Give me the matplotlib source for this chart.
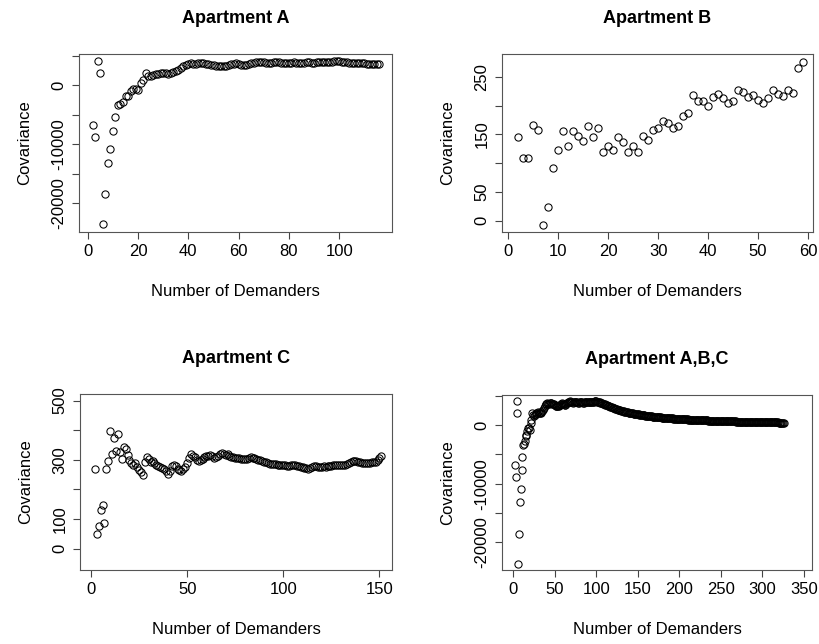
import numpy as np
import matplotlib
matplotlib.use("Agg")
import matplotlib.pyplot as plt

plt.rcParams["font.family"] = ["Liberation Sans", "DejaVu Sans"]
plt.rcParams["font.size"] = 12

# covariance per number of demanders (first demander count is 2)
first_n = 2

cov_a = [
    -6800, -8800, 4100, 2100, -23600, -18500, -13200, -10900, -7700, -5400,
    -3400, -3200, -2800, -1900, -1750, -1000, -600, -600, -850, 400,
    850, 2000, 1650, 1550, 1750, 1850, 1950, 2100, 2150, 2000,
    1950, 2100, 2250, 2400, 2550, 2850, 3200, 3500, 3650, 3700,
    3600, 3650, 3700, 3750, 3700, 3650, 3600, 3500, 3400, 3300,
    3250, 3200, 3250, 3300, 3400, 3550, 3650, 3700, 3650, 3500,
    3400, 3450, 3550, 3700, 3850, 3950, 4000, 3950, 3900, 3850,
    3800, 3850, 3900, 3950, 3900, 3850, 3800, 3800, 3850, 3850,
    3900, 3850, 3800, 3800, 3850, 3900, 3900, 3850, 3850, 3900,
    3900, 3950, 3950, 3900, 3900, 3950, 4050, 4100, 4050, 3950,
    3900, 3900, 3850, 3850, 3800, 3800, 3750, 3700, 3700, 3650,
    3650, 3600, 3600, 3550, 3550,
]

cov_b = [
    146, 109, 109, 167, 157, -8, 24, 91, 122, 156,
    130, 156, 148, 139, 164, 145, 161, 119, 130, 122,
    146, 137, 120, 130, 119, 148, 141, 157, 161, 174,
    169, 161, 165, 182, 187, 218, 209, 209, 199, 215,
    221, 214, 205, 209, 228, 223, 215, 218, 210, 205,
    214, 227, 221, 216, 227, 222, 265, 276,
]

cov_c = [
    268, 51, 78, 130, 149, 87, 268, 296, 398, 321,
    372, 330, 388, 327, 302, 342, 338, 315, 300, 290,
    283, 288, 275, 265, 258, 250, 291, 310, 304, 292,
    295, 288, 284, 279, 276, 273, 268, 262, 251, 262,
    280, 284, 279, 270, 265, 262, 268, 275, 290, 305,
    319, 314, 308, 300, 296, 300, 304, 310, 313, 312,
    316, 314, 305, 308, 313, 318, 322, 320, 316, 318,
    314, 310, 308, 306, 306, 305, 304, 303, 302, 304,
    306, 308, 307, 305, 303, 300, 298, 296, 293, 291,
    289, 287, 285, 286, 285, 284, 283, 282, 283, 282,
    280, 279, 281, 282, 281, 280, 278, 276, 274, 272,
    271, 270, 272, 276, 279, 278, 277, 276, 277, 278,
    277, 278, 279, 280, 281, 282, 283, 282, 282, 283,
    284, 286, 289, 292, 295, 297, 296, 294, 292, 290,
    289, 288, 289, 290, 291, 292, 293, 298, 305, 313,
]

# all apartments pooled: same as A up to 104 demanders, then this tail
cov_abc_tail = [
    3800, 3750, 3700, 3650, 3600, 3520,
    3450, 3400, 3350, 3300, 3250, 3190, 3130, 3070, 3010, 2950,
    2900, 2840, 2790, 2730, 2680, 2630, 2590, 2540, 2500, 2450,
    2410, 2370, 2330, 2290, 2250, 2220, 2180, 2150, 2110, 2080,
    2050, 2020, 1990, 1960, 1930, 1900, 1880, 1850, 1830, 1800,
    1780, 1750, 1730, 1710, 1690, 1660, 1640, 1620, 1600, 1570,
    1550, 1530, 1510, 1500, 1480, 1460, 1440, 1420, 1410, 1390,
    1370, 1360, 1340, 1330, 1310, 1300, 1280, 1270, 1250, 1240,
    1230, 1210, 1200, 1190, 1180, 1170, 1150, 1140, 1130, 1120,
    1110, 1100, 1090, 1080, 1070, 1060, 1050, 1040, 1030, 1020,
    1010, 1000, 990, 980, 970, 960, 960, 950, 940, 930,
    920, 910, 900, 900, 890, 880, 870, 870, 860, 850,
    840, 840, 830, 820, 810, 810, 800, 790, 790, 780,
    770, 770, 760, 760, 750, 740, 740, 730, 730, 720,
    720, 710, 700, 700, 690, 690, 680, 680, 670, 670,
    660, 660, 650, 650, 640, 640, 630, 630, 620, 620,
    620, 610, 610, 600, 600, 590, 590, 590, 580, 580,
    570, 570, 570, 560, 560, 550, 550, 550, 540, 540,
    540, 530, 530, 520, 520, 520, 510, 510, 510, 500,
    500, 500, 490, 490, 490, 480, 480, 480, 470, 470,
    470, 460, 460, 460, 450, 450, 450, 450, 440, 440,
    440, 430, 430, 430, 430, 420, 420, 420, 420, 410,
    410, 410, 400, 400, 400, 395,
]
cov_abc = cov_a[:103] + cov_abc_tail

titles = ["Apartment A", "Apartment B", "Apartment C", "Apartment A,B,C"]

panels = [
    dict(y=cov_a, box=(79, 54, 392, 232), xlim=(-3.5, 121), ylim=(-24900, 5300),
         xt=[0, 20, 40, 60, 80, 100], yt=[-20000, -15000, -10000, -5000, 0, 5000],
         ylab=["-20000", "", "-10000", "", "0", ""]),
    dict(y=cov_b, box=(502, 54, 813, 232), xlim=(-1.3, 61), ylim=(-20, 290),
         xt=[0, 10, 20, 30, 40, 50, 60], yt=[0, 50, 100, 150, 200, 250],
         ylab=["0", "50", "", "150", "", "250"]),
    dict(y=cov_c, box=(80, 394, 392, 570), xlim=(-5.7, 156.5), ylim=(-72, 522),
         xt=[0, 50, 100, 150], yt=[0, 100, 200, 300, 400, 500],
         ylab=["0", "100", "", "300", "", "500"]),
    dict(y=cov_abc, box=(502, 395, 812, 570), xlim=(-13.5, 360), ylim=(-24700, 5100),
         xt=[0, 50, 100, 150, 200, 250, 300, 350], yt=[-20000, -15000, -10000, -5000, 0, 5000],
         ylab=["-20000", "", "-10000", "", "0", ""]),
]

W, H = 819, 644
fig = plt.figure(figsize=(W / 100, H / 100), dpi=100)

for title, p in zip(titles, panels):
    x0, y0, x1, y1 = p["box"]
    ax = fig.add_axes([x0 / W, 1 - y1 / H, (x1 - x0) / W, (y1 - y0) / H])
    n = np.arange(first_n, first_n + len(p["y"]))
    ax.plot(n, p["y"], "o", mfc="none", mec="black", ms=5.2, mew=0.75)
    ax.set_xlim(*p["xlim"])
    ax.set_ylim(*p["ylim"])
    ax.set_xticks(p["xt"])
    ax.set_yticks(p["yt"])
    ax.set_yticklabels(p["ylab"], rotation=90, va="center")
    ax.tick_params(direction="out", length=5, width=0.8, color="#444",
                   labelsize=12, pad=4)
    for s in ax.spines.values():
        s.set_color("#555")
        s.set_linewidth(0.8)
    ax.set_title(title, fontweight="bold", fontsize=13, pad=22)
    ax.set_xlabel("Number of Demanders", labelpad=18)
    ax.set_ylabel("Covariance", labelpad=14)

fig.savefig("out.png", dpi=100)
